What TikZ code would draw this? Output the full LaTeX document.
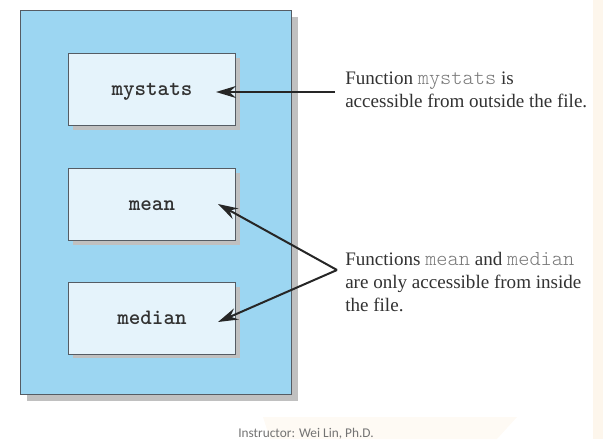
\documentclass[tikz,border=0pt]{standalone}
\usepackage{fontspec}
\setmainfont{Liberation Serif}
\newfontfamily\codefont{Latin Modern Mono Light}
\newfontfamily\footfont{Carlito}
\usetikzlibrary{arrows.meta}
\definecolor{outerblue}{RGB}{156,214,242}
\definecolor{innerblue}{RGB}{229,243,251}
\definecolor{edgegray}{RGB}{85,92,100}
\definecolor{shadowgray}{RGB}{192,192,192}
\definecolor{textgray}{RGB}{50,50,50}
\definecolor{codegray}{RGB}{120,120,120}
\definecolor{beige}{RGB}{253,246,236}
\tikzset{
  outerbox/.style={draw=edgegray, line width=0.9pt, fill=outerblue, minimum width=271*0.75pt, minimum height=384*0.75pt, inner sep=0pt, anchor=north west},
  funcbox/.style={draw=edgegray, line width=0.7pt, fill=innerblue, minimum width=167*0.75pt, minimum height=72*0.75pt, inner sep=0pt, anchor=north west, text height=8.5pt, text depth=0pt, font=\codefont\bfseries\fontsize{16.5}{18}\selectfont, text=textgray},
  note/.style={anchor=north west, inner sep=0pt, align=left, text=textgray, font=\fontsize{14.3}{17.3}\selectfont},
  arr/.style={-{Stealth[length=15pt,width=9pt,inset=5pt]}, line width=1.5pt, black!85}
}
\newcommand{\cw}[1]{{\color{codegray}\codefont\fontsize{16}{17}\selectfont #1}}
\begin{document}
\begin{tikzpicture}[x=0.75pt,y=-0.75pt]
\useasboundingbox (0,0) rectangle (603,439);
% faint background decorations
\fill[beige] (593,0) rectangle (603,439);
\fill[beige!60] (263,417) -- (517,417) -- (497,439) -- (270,439) -- cycle;
% outer file box with shadow
\fill[shadowgray] (27,17) rectangle (298,401);
\node[outerbox] (file) at (20,10) {};
% function boxes with shadows
\fill[shadowgray] (73,58) rectangle (240,130);
\fill[shadowgray] (73,173) rectangle (240,245);
\fill[shadowgray] (73,287) rectangle (240,358);
\node[funcbox] (mystats) at (68,53) {mystats};
\node[funcbox] (mean) at (68,168) {mean};
\node[funcbox] (median) at (68,282) {median};
% notes
\node[note] (note1) at (345,72) {Function \cw{mystats} is\\accessible from outside the file.};
\node[note] (note2) at (345,252) {Functions \cw{mean} and \cw{median}\\are only accessible from inside\\the file.};
% connectors
\coordinate (s1) at (335,92);
\coordinate (t1) at (216,92);
\coordinate (apex) at (337,270);
\coordinate (t2) at (218,204);
\coordinate (t3) at (218,322);
\draw[arr] (s1) -- (t1);
\draw[arr] (apex) -- (t2);
\draw[arr] (apex) -- (t3);
% footer
\node[font=\footfont\fontsize{10}{12}\selectfont, text=black!55, inner sep=0pt, anchor=base] (footer) at (306,437) {Instructor: Wei Lin, Ph.D.};
\end{tikzpicture}
\end{document}
